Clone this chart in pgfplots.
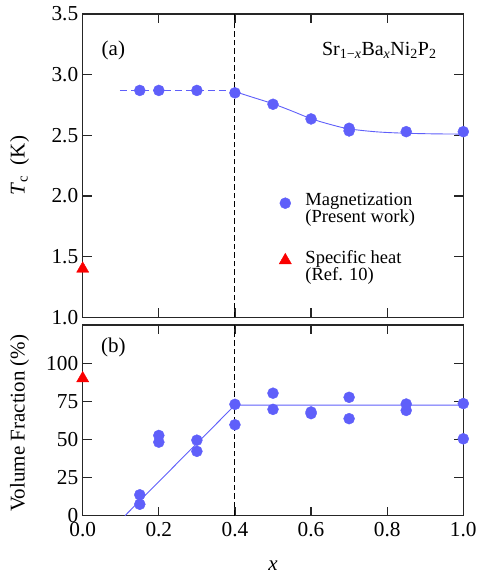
\documentclass[border=0pt]{standalone}
\usepackage{fontspec}
\setmainfont{Liberation Serif}
\usepackage{pgfplots}
\pgfplotsset{compat=1.18}

\definecolor{magblue}{RGB}{95,95,250}
\definecolor{heatred}{RGB}{250,0,0}

\pgfplotsset{
  panel/.style={
    scale only axis,
    width=380.6bp,
    xmin=0, xmax=1,
    xtick={0,0.2,0.4,0.6,0.8,1.0},
    tick align=inside,
    major tick length=9bp,
    minor tick num=0,
    axis line style={line width=1.2bp, black!85},
    every tick/.style={line width=1.2bp, black!85},
    clip=false,
    /pgf/number format/assume math mode=true,
    tick label style={font=\fontsize{21.3bp}{23bp}\selectfont},
    label style={font=\fontsize{21bp}{23bp}\selectfont},
    yticklabel style={xshift=-1bp},
    xticklabel style={yshift=-3.5bp},
    ylabel style={at={(axis description cs:-0.166,0.5)}, anchor=center, rotate=0},
  },
  magmark/.style={only marks, mark=*, mark size=5.5bp, magblue, mark options={draw=magblue, fill=magblue}},
  heatmark/.style={only marks, mark=triangle*, mark size=7bp, heatred, mark options={draw=heatred, fill=heatred}},
}

\begin{document}
\begin{tikzpicture}

% ---- (b) volume fraction ----
\begin{axis}[panel,
    at={(0bp,0bp)}, anchor=south west,
    height=190.7bp,
    ymin=0, ymax=125,
    ytick={0,25,50,75,100},
    xticklabel style={/pgf/number format/.cd, fixed, fixed zerofill, precision=1},
    xlabel={\textit{x}},
    xlabel style={at={(axis description cs:0.5,-0.262)}, anchor=center},
    ylabel={Volume Fraction (\%)},
    ylabel style={at={(axis description cs:-0.166,0.486)}},
  ]
  \addplot[magblue, line width=0.9bp] coordinates {(0.111,0) (0.4,72.5) (1.0,72.5)};
  \addplot[black, line width=0.9bp, dash pattern=on 5.5bp off 3bp] coordinates {(0.4,0) (0.4,125)};
  \addplot[magmark] coordinates {
    (0.15,13.7) (0.15,7.5)
    (0.2,52.6) (0.2,48.2)
    (0.3,49.5) (0.3,42.2)
    (0.4,73.0) (0.4,59.6)
    (0.5,80.3) (0.5,69.7)
    (0.6,68.0) (0.6,66.9)
    (0.7,77.6) (0.7,63.6)
    (0.85,73.2) (0.85,69.0)
    (1.0,73.5) (1.0,50.4)
  };
  \addplot[heatmark] coordinates {(0,90)};
  \node[anchor=base, font=\fontsize{21bp}{23bp}\selectfont] at (axis cs:0.0805,107.1) {(b)};
\end{axis}

% ---- (a) Tc ----
\begin{axis}[panel,
    at={(0bp,198.4bp)}, anchor=south west,
    height=303.3bp,
    ymin=1.0, ymax=3.5,
    ytick={1.0,1.5,2.0,2.5,3.0,3.5},
    yticklabel style={/pgf/number format/.cd, fixed, fixed zerofill, precision=1},
    xticklabels={},
    ylabel={\textit{T}\textsubscript{c}\ \ (K)},
    legend cell align=left,
    legend style={draw=none, fill=none, at={(axis cs:0.5155,2.04)}, anchor=north west,
      font=\fontsize{18.5bp}{17bp}\selectfont, cells={align=left}, row sep=22bp,
      inner sep=0pt},
    legend image code/.code={%
      \path (-6bp,0bp) (18bp,0bp);
      \draw[#1] plot[only marks] coordinates {(0bp,5.5bp)};},
  ]
  \addplot[magblue, line width=0.9bp, dash pattern=on 7bp off 4bp, forget plot] coordinates {(0.098,2.87) (0.4,2.87)};
  \addplot[magblue, line width=0.9bp, smooth, forget plot] coordinates {
    (0.4,2.86) (0.45,2.81) (0.5,2.76) (0.55,2.70) (0.6,2.637) (0.65,2.59)
    (0.7,2.553) (0.775,2.528) (0.85,2.517) (0.925,2.512) (1.0,2.51)
  };
  \addplot[black, line width=0.9bp, dash pattern=on 5.5bp off 3bp, forget plot] coordinates {(0.4,1.0) (0.4,3.5)};
  \addplot[magmark] coordinates {
    (0.15,2.87) (0.2,2.87) (0.3,2.87) (0.4,2.85)
    (0.5,2.756) (0.6,2.635) (0.7,2.558) (0.7,2.536)
    (0.85,2.53) (1.0,2.53)
  };
  \addlegendentry{Magnetization\\(Present work)}
  \addplot[heatmark] coordinates {(0,1.40)};
  \addlegendentry{Specific heat\\(Ref. 10)}
  \node[anchor=base, font=\fontsize{21bp}{23bp}\selectfont] at (axis cs:0.0805,3.162) {(a)};
  \node[anchor=base east, font=\fontsize{20bp}{22bp}\selectfont] at (axis cs:0.939,3.162)
    {Sr\textsubscript{1−\textit{x}}Ba\textsubscript{\textit{x}}Ni\textsubscript{2}P\textsubscript{2}};
\end{axis}

\pgfresetboundingbox
\path[use as bounding box] (-82.7bp,-59.3bp) rectangle (395.3bp,515.7bp);
\end{tikzpicture}
\end{document}
